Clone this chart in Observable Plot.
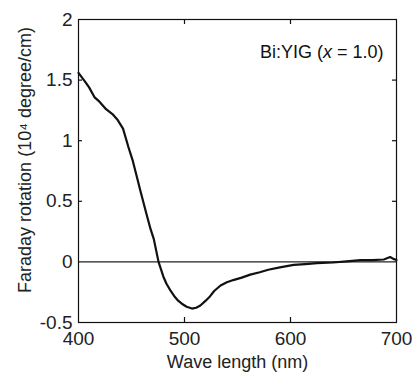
<!DOCTYPE html>
<html>
<head>
<meta charset="utf-8">
<script src="https://cdn.jsdelivr.net/npm/d3@7"></script>
<script src="https://cdn.jsdelivr.net/npm/@observablehq/plot@0.6"></script>
<style>
  html, body { margin: 0; padding: 0; background: white; }
</style>
</head>
<body>
<div id="chart"></div>
<script>
const wavelength = [400, 406, 410, 415, 420, 426, 432, 437, 442, 447, 451, 456, 458, 464, 468, 471, 475.5, 480, 483, 487, 491, 494, 497.5, 502, 507, 511, 515, 520, 524, 528, 534, 540, 546, 554, 562, 571, 579, 590, 603, 614, 625, 640, 653, 666, 677, 688, 694, 697, 700];
const rotation = [1.56, 1.49, 1.44, 1.36, 1.32, 1.26, 1.22, 1.17, 1.10, 0.95, 0.84, 0.67, 0.60, 0.40, 0.27, 0.19, 0.0, -0.12, -0.18, -0.24, -0.29, -0.32, -0.345, -0.37, -0.385, -0.378, -0.36, -0.32, -0.285, -0.24, -0.195, -0.168, -0.15, -0.13, -0.105, -0.085, -0.065, -0.045, -0.025, -0.018, -0.01, -0.005, 0.005, 0.015, 0.015, 0.02, 0.04, 0.025, 0.015];
const xTicks = [400, 500, 600, 700];
const yTicks = [-0.5, 0, 0.5, 1, 1.5, 2];
const xInnerTicks = [500, 600];
const yInnerTicks = [0.5, 1, 1.5];
const xLabel = "Wave length (nm)";
const yLabel = "Faraday rotation (10⁴ degree/cm)";
const legendLabel = "Bi:YIG (x = 1.0)";

const data = wavelength.map((w, i) => ({w, r: rotation[i]}));

const W = 413, H = 376, ML = 78, MR = 17, MT = 19, MB = 54;
const plotW = W - ML - MR, plotH = H - MT - MB;

const chart = Plot.plot({
  width: W,
  height: H,
  marginLeft: ML,
  marginRight: MR,
  marginTop: MT,
  marginBottom: MB,
  style: {fontFamily: "'Liberation Sans', Arial, sans-serif", background: "white", color: "#111"},
  x: {domain: [400, 700]},
  y: {domain: [-0.5, 2]},
  marks: [
    Plot.ruleY([0], {stroke: "#222", strokeWidth: 1.2}),
    Plot.line(data, {x: "w", y: "r", stroke: "#111", strokeWidth: 2.2}),
    Plot.frame({stroke: "#111", strokeWidth: 1.2}),
    // inward tick marks
    Plot.ruleX(xInnerTicks, {insetTop: plotH - 5, stroke: "#111", strokeWidth: 1.2}),
    Plot.ruleX(xInnerTicks, {insetBottom: plotH - 5, stroke: "#111", strokeWidth: 1.2}),
    Plot.ruleY(yInnerTicks, {insetRight: plotW - 4, stroke: "#111", strokeWidth: 1.2}),
    Plot.ruleY(yInnerTicks, {insetLeft: plotW - 4, stroke: "#111", strokeWidth: 1.2}),
    Plot.axisX(xTicks, {anchor: "bottom", tickSize: 0, tickPadding: 9, fontSize: 19, label: null, tickFormat: d => String(d), fill: "#222"}),
    Plot.axisY(yTicks, {anchor: "left", tickSize: 0, tickPadding: 6, fontSize: 19, label: null, tickFormat: d => String(d), fill: "#222"}),
    Plot.text([xLabel], {frameAnchor: "bottom", dy: 40, text: d => d, fontSize: 18, textAnchor: "middle", lineAnchor: "middle", fill: "#222"}),
    Plot.text([yLabel], {frameAnchor: "left", rotate: -90, dx: -53, dy: -11, text: d => d, fontSize: 18, textAnchor: "middle", lineAnchor: "middle", fill: "#222"}),
    Plot.text([legendLabel], {frameAnchor: "top-right", dx: -13, dy: 33, text: d => d, fontSize: 18, textAnchor: "end", lineAnchor: "middle", fill: "#111"})
  ]
});

document.getElementById("chart").appendChild(chart);

// italicize the "x" in the legend label
d3.select(chart).selectAll("text").each(function() {
  if (this.textContent === legendLabel) {
    this.innerHTML = 'Bi:YIG (<tspan font-style="italic">x</tspan> = 1.0)';
  }
});
</script>
</body>
</html>
